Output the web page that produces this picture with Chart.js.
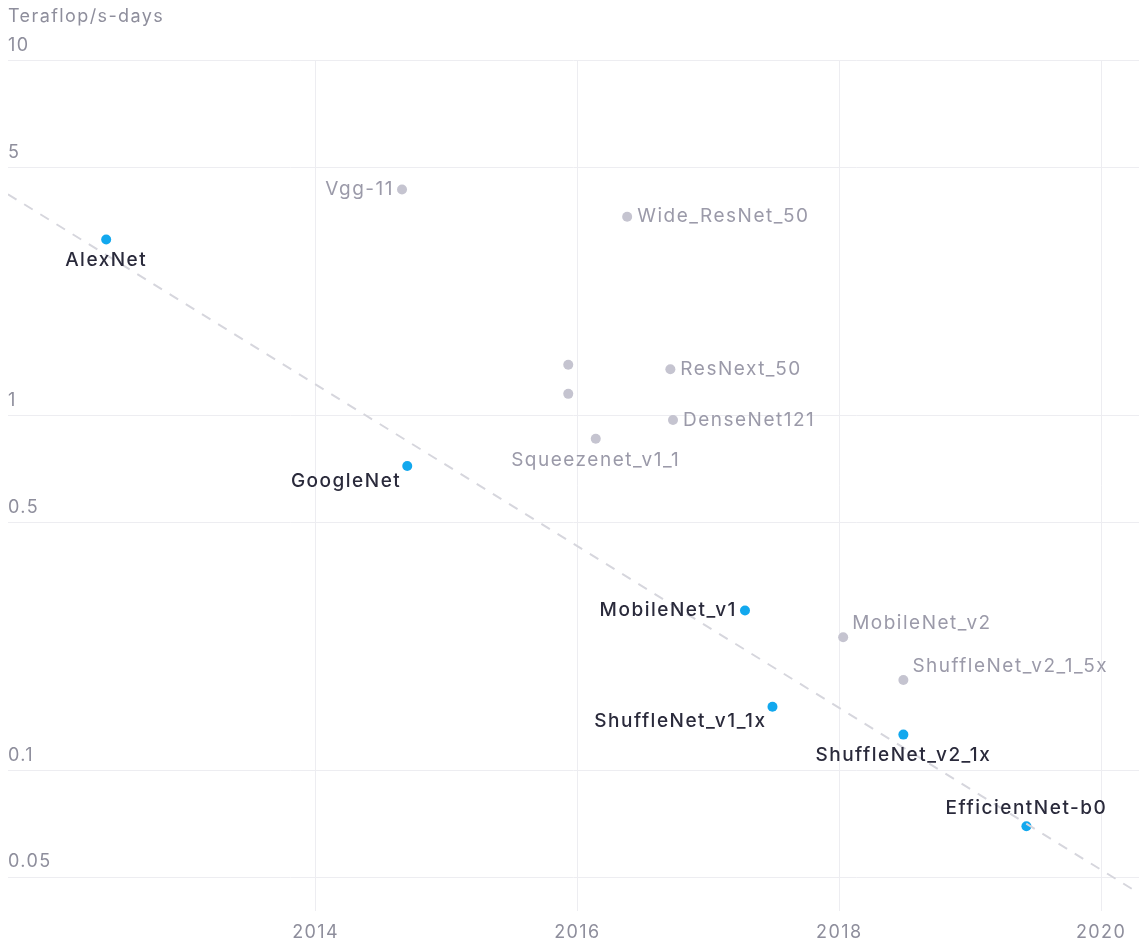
<!DOCTYPE html>
<html lang="en">
<head>
    <meta charset="UTF-8">
    <title>Teraflop/s-days</title>
    <script src="https://cdn.jsdelivr.net/npm/chart.js"></script>
    <style>
        html, body { margin: 0; padding: 0; background: #fff; }
        #chart-container { width: 1139px; height: 941px; }
    </style>
</head>
<body>
    <div id="chart-container">
        <canvas id="computeChart"></canvas>
    </div>

    <script>
        // Data (tahun, teraflop/s-days)
        const blueNames  = ['AlexNet', 'GoogleNet', 'MobileNet_v1', 'ShuffleNet_v1_1x', 'ShuffleNet_v2_1x', 'EfficientNet-b0'];
        const blueYears  = [2012.40, 2014.70, 2017.28, 2017.49, 2018.49, 2019.43];
        const blueValues = [3.13, 0.72, 0.282, 0.151, 0.126, 0.0695];
        const bluePlace  = ['below', 'belowLeft', 'left', 'belowLeft', 'below', 'above'];

        const grayNames  = ['Vgg-11', 'Wide_ResNet_50', '', '', 'ResNext_50', 'DenseNet121', 'Squeezenet_v1_1', 'MobileNet_v2', 'ShuffleNet_v2_1_5x'];
        const grayYears  = [2014.66, 2016.38, 2015.93, 2015.93, 2016.71, 2016.73, 2016.14, 2018.03, 2018.49];
        const grayValues = [4.33, 3.63, 1.39, 1.15, 1.35, 0.971, 0.859, 0.237, 0.1795];
        const grayPlace  = ['left', 'right', 'right', 'right', 'right', 'right', 'below', 'aboveRight', 'aboveRight'];

        const trendYears  = [2011.65, 2020.29];
        const trendValues = [4.2, 0.045];

        const xTicks = [2014, 2016, 2018, 2020];
        const yTicks = [0.05, 0.1, 0.5, 1, 5, 10];

        const FONT = 'Inter, "DejaVu Sans", sans-serif';
        const gridColor = '#ededf1';
        const tickColor = '#8e8e9c';

        const toPoints = (xs, ys) => xs.map((x, i) => ({ x: x, y: ys[i] }));

        // jarak huruf agak lebar seperti gambar aslinya
        const spacing = {
            id: 'spacing',
            beforeDraw(chart) { chart.ctx.letterSpacing = '1.4px'; }
        };

        // Plugin untuk label titik
        const pointLabels = {
            id: 'pointLabels',
            afterDatasetsDraw(chart) {
                const ctx = chart.ctx;
                chart.data.datasets.forEach((ds, di) => {
                    if (!ds.names) return;
                    const meta = chart.getDatasetMeta(di);
                    ctx.save();
                    ctx.font = ds.labelWeight + ' 19px ' + FONT;
                    ctx.letterSpacing = '1.5px';
                    ctx.fillStyle = ds.labelColor;
                    meta.data.forEach((pt, i) => {
                        const name = ds.names[i];
                        if (!name) return;
                        const p = ds.places[i];
                        let x = pt.x, y = pt.y;
                        ctx.textBaseline = 'middle';
                        if (p === 'left') { ctx.textAlign = 'right'; x -= 8; }
                        else if (p === 'right') { ctx.textAlign = 'left'; x += 10; }
                        else if (p === 'below') { ctx.textAlign = 'center'; y += 21; }
                        else if (p === 'above') { ctx.textAlign = 'center'; y -= 18; }
                        else if (p === 'belowLeft') { ctx.textAlign = 'right'; x -= 6; y += 15; }
                        else if (p === 'aboveRight') { ctx.textAlign = 'left'; x += 9; y -= 14; }
                        ctx.fillText(name, x, y);
                    });
                    ctx.restore();
                });
            }
        };

        const config = {
            type: 'scatter',
            data: {
                datasets: [
                    {
                        type: 'line',
                        data: toPoints(trendYears, trendValues),
                        borderColor: '#d6d6dd',
                        borderWidth: 2,
                        borderDash: [10, 9],
                        pointRadius: 0,
                        fill: false
                    },
                    {
                        data: toPoints(grayYears, grayValues),
                        names: grayNames,
                        places: grayPlace,
                        labelColor: '#9b9aa9',
                        labelWeight: 'normal',
                        backgroundColor: '#c5c4d0',
                        borderWidth: 0,
                        pointRadius: 5
                    },
                    {
                        data: toPoints(blueYears, blueValues),
                        names: blueNames,
                        places: bluePlace,
                        labelColor: '#2a2a3b',
                        labelWeight: '500',
                        backgroundColor: '#12a8ee',
                        borderWidth: 0,
                        pointRadius: 5
                    }
                ]
            },
            options: {
                responsive: true,
                maintainAspectRatio: false,
                animation: false,
                layout: { autoPadding: false, padding: { left: 8, right: 0, top: 0, bottom: -12 } },
                plugins: {
                    legend: { display: false },
                    tooltip: { enabled: false },
                    title: {
                        display: true,
                        text: 'Teraflop/s-days',
                        align: 'start',
                        color: tickColor,
                        font: { family: FONT, size: 18, weight: 'normal' },
                        padding: { top: 6, bottom: 33 }
                    }
                },
                scales: {
                    x: {
                        type: 'linear',
                        min: trendYears[0],
                        max: trendYears[1],
                        afterBuildTicks: (axis) => { axis.ticks = xTicks.map(v => ({ value: v })); },
                        grid: { color: gridColor, drawTicks: false },
                        border: { display: false },
                        ticks: {
                            color: tickColor,
                            padding: 10,
                            font: { family: FONT, size: 18 },
                            callback: (v) => String(v)
                        }
                    },
                    y: {
                        type: 'logarithmic',
                        min: 0.04,
                        max: 10,
                        afterBuildTicks: (axis) => { axis.ticks = yTicks.map(v => ({ value: v })); },
                        grid: { color: gridColor, drawTicks: false },
                        border: { display: false },
                        ticks: {
                            mirror: true,
                            padding: 0,
                            labelOffset: -15,
                            color: tickColor,
                            font: { family: FONT, size: 18 },
                            callback: (v) => String(v)
                        }
                    }
                }
            },
            plugins: [spacing, pointLabels]
        };

        const computeChart = new Chart(document.getElementById('computeChart'), config);
    </script>
</body>
</html>
